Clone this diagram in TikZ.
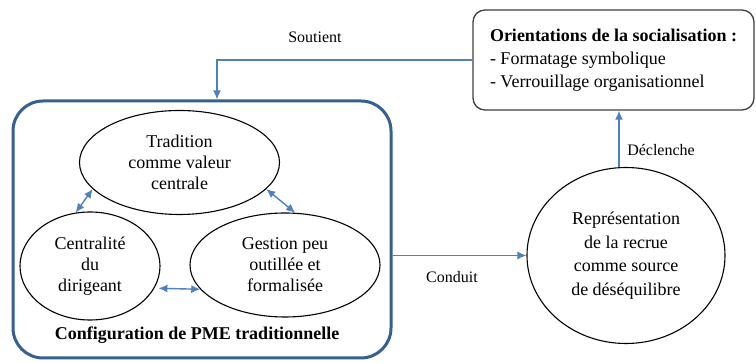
\documentclass[tikz,border=0pt]{standalone}
\usepackage{fontspec}
\IfFontExistsTF{LiberationSerif-Regular.ttf}{%
\setmainfont{LiberationSerif-Regular.ttf}[BoldFont=LiberationSerif-Bold.ttf,ItalicFont=LiberationSerif-Italic.ttf]}{%
\setmainfont{Liberation Serif}}
\usetikzlibrary{shapes.geometric,arrows.meta}
\definecolor{arrowblue}{HTML}{4F81BD}
\definecolor{boxblue}{HTML}{35608F}
\definecolor{boxgray}{HTML}{404040}
\begin{document}
\begin{tikzpicture}[x=1pt,y=-1pt,
 ell/.style={ellipse,draw=black,line width=1.1pt,inner sep=0pt,align=center,font=\rmfamily\fontsize{18}{21}\selectfont},
 link/.style={draw=arrowblue,line width=1.4pt,-{Latex[length=9pt,width=8pt]}},
 dlink/.style={draw=arrowblue,line width=1.4pt,{Latex[length=9pt,width=8pt]}-{Latex[length=9pt,width=8pt]}},
 lab/.style={font=\rmfamily\fontsize{16}{19}\selectfont}]
\useasboundingbox (0,0) rectangle (756,363);
\fill[white] (0,0) rectangle (756,363);
\node[draw=boxblue,line width=3pt,rounded corners=30pt,minimum width=378pt,minimum height=257pt] (cfg) at (202,229.5) {};
\node[ell,minimum width=200pt,minimum height=104pt] (trad) at (179.5,162.5) {Tradition\\comme valeur\\centrale};
\node[ell,minimum width=140pt,minimum height=108pt] (cent) at (90,266) {Centralité\\du\\dirigeant};
\node[ell,minimum width=190pt,minimum height=104pt] (gest) at (285,265) {Gestion peu\\outillée et\\formalisée};
\node[font=\rmfamily\bfseries\fontsize{18}{21}\selectfont] (cfglab) at (197,335) {Configuration de PME traditionnelle};
\node[draw=boxgray,line width=1.3pt,rounded corners=12pt,minimum width=281pt,minimum height=100pt,align=left,font=\rmfamily\fontsize{18}{23}\selectfont,inner sep=0pt] (orient) at (613.5,60) {\textbf{Orientations de la socialisation :}\\- Formatage symbolique\\- Verrouillage organisationnel};
\node[ell,minimum width=198pt,minimum height=176pt,font=\rmfamily\fontsize{18}{23.5}\selectfont] (rep) at (626,255.5) {Représentation\\de la recrue\\comme source\\de déséquilibre};
\draw[link] (orient.west) -| ([xshift=15pt]cfg.north);
\draw[link] (rep.west -| cfg.east) -- (rep.west);
\draw[link] ([xshift=-7pt]rep.north) -- ([xshift=-7pt]rep.north |- orient.south);
\draw[dlink] (cent.105) -- (trad.197.6);
\draw[dlink] (trad.343) -- (gest.79);
\draw[dlink,shorten <=4pt] (cent.-19) -- (gest.196);
\node[lab] (lsout) at (315,37) {Soutient};
\node[lab] (lcond) at (452,277) {Conduit};
\node[lab] (ldecl) at (661,150) {Déclenche};
\end{tikzpicture}
\end{document}
